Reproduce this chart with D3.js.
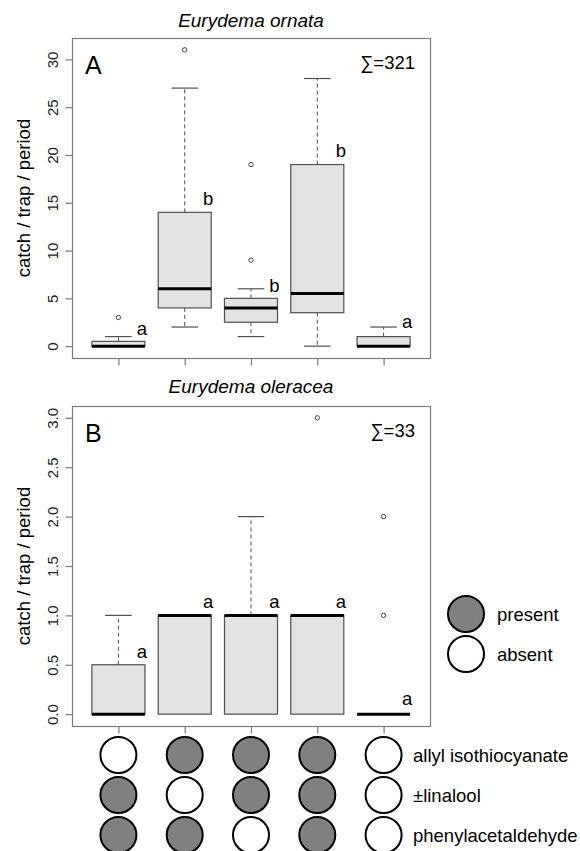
<!DOCTYPE html>
<html>
<head>
<meta charset="utf-8">
<script src="https://cdn.jsdelivr.net/npm/d3@7"></script>
<style>
  html, body { margin: 0; padding: 0; background: #fff; }
  svg { display: block; font-family: "Liberation Sans", Arial, Helvetica, sans-serif; }
</style>
</head>
<body>
<svg id="chart" width="580" height="851"></svg>
<script>
// ---------------- DATA ----------------
const treatments = ["T1", "T2", "T3", "T4", "T5"];

// Panel A: Eurydema ornata
const ornataLow      = [0, 2, 1, 0, 0];
const ornataQ1       = [0, 4, 2.5, 3.5, 0];
const ornataMedian   = [0, 6, 4, 5.5, 0];
const ornataQ3       = [0.5, 14, 5, 19, 1];
const ornataHigh     = [1, 27, 6, 28, 2];
const ornataOutliers = [[3], [31], [9, 19], [], []];
const ornataLetters  = ["a", "b", "b", "b", "a"];
const ornataLetterY  = [1.2, 14.8, 5.7, 19.8, 1.9];
const ornataTicks    = [0, 5, 10, 15, 20, 25, 30];

// Panel B: Eurydema oleracea
const oleraceaLow      = [0, 0, 0, 0, 0];
const oleraceaQ1       = [0, 0, 0, 0, 0];
const oleraceaMedian   = [0, 1, 1, 1, 0];
const oleraceaQ3       = [0.5, 1, 1, 1, 0];
const oleraceaHigh     = [1, 1, 2, 1, 0];
const oleraceaOutliers = [[], [], [], [3], [1, 2]];
const oleraceaLetters  = ["a", "a", "a", "a", "a"];
const oleraceaLetterY  = [0.57, 1.07, 1.07, 1.07, 0.09];
const oleraceaTicks    = [0, 0.5, 1, 1.5, 2, 2.5, 3];

// Treatment composition (1 = present, 0 = absent)
const compounds = ["allyl isothiocyanate", "\u00B1linalool", "phenylacetaldehyde"];
const allylPresent    = [0, 1, 1, 1, 0];
const linaloolPresent = [1, 0, 1, 1, 0];
const phenylPresent   = [1, 1, 0, 1, 0];

const legendLabels = ["present", "absent"];

// ---------------- DRAWING ----------------
const svg = d3.select("#chart");
const FONT = 18.5;
const frameColor = "#7a7a7a";
const boxStroke = "#505050";
const boxFill = "#e3e3e3";
const presentFill = "#808080";

const plotLeft = 72, plotRight = 430;
const x = d3.scaleLinear().domain([0.3, 5.7]).range([plotLeft, plotRight]);
const boxHalf = (x(1.4) - x(1));
const capHalf = boxHalf / 2;

function panel(cfg) {
  const g = svg.append("g");
  const y = d3.scaleLinear().domain(cfg.domain).range([cfg.bottom, cfg.top]);

  // frame
  g.append("rect")
    .attr("x", plotLeft + 0.5).attr("y", cfg.top + 0.5)
    .attr("width", plotRight - plotLeft).attr("height", cfg.bottom - cfg.top)
    .attr("fill", "none").attr("stroke", frameColor).attr("stroke-width", 1.2);

  // y axis
  const yAxis = d3.axisLeft(y).tickValues(cfg.ticks).tickSize(7).tickPadding(0)
    .tickFormat(cfg.fmt);
  const ya = g.append("g").attr("transform", `translate(${plotLeft + 0.5},0)`).call(yAxis);
  ya.select(".domain").remove();
  ya.selectAll(".tick line").attr("stroke", frameColor).attr("stroke-width", 1.2);
  ya.selectAll(".tick text")
    .attr("x", null).attr("dy", null)
    .attr("transform", "translate(-15,0) rotate(-90)")
    .attr("text-anchor", "middle")
    .attr("fill", "#222")
    .style("font-size", "15px");

  // x axis ticks (no labels)
  const xAxis = d3.axisBottom(x).tickValues([1, 2, 3, 4, 5]).tickSize(7).tickFormat("");
  const xa = g.append("g").attr("transform", `translate(0,${cfg.bottom + 0.5})`).call(xAxis);
  xa.select(".domain").remove();
  xa.selectAll(".tick line").attr("stroke", frameColor).attr("stroke-width", 1.2);

  // boxes
  treatments.forEach((t, i) => {
    const cx = x(i + 1);
    const bg = g.append("g");
    if (cfg.high[i] > cfg.q3[i]) {
      bg.append("line").attr("x1", cx).attr("x2", cx)
        .attr("y1", y(cfg.q3[i])).attr("y2", y(cfg.high[i]))
        .attr("stroke", boxStroke).attr("stroke-dasharray", "4,3");
      bg.append("line").attr("x1", cx - capHalf).attr("x2", cx + capHalf)
        .attr("y1", y(cfg.high[i])).attr("y2", y(cfg.high[i]))
        .attr("stroke", boxStroke).attr("stroke-width", 1.2);
    }
    if (cfg.low[i] < cfg.q1[i]) {
      bg.append("line").attr("x1", cx).attr("x2", cx)
        .attr("y1", y(cfg.q1[i])).attr("y2", y(cfg.low[i]))
        .attr("stroke", boxStroke).attr("stroke-dasharray", "4,3");
      bg.append("line").attr("x1", cx - capHalf).attr("x2", cx + capHalf)
        .attr("y1", y(cfg.low[i])).attr("y2", y(cfg.low[i]))
        .attr("stroke", boxStroke).attr("stroke-width", 1.2);
    }
    if (cfg.q3[i] > cfg.q1[i]) {
      bg.append("rect")
        .attr("x", cx - boxHalf).attr("y", y(cfg.q3[i]))
        .attr("width", 2 * boxHalf).attr("height", y(cfg.q1[i]) - y(cfg.q3[i]))
        .attr("fill", boxFill).attr("stroke", boxStroke).attr("stroke-width", 1.2);
    }
    bg.append("line").attr("x1", cx - boxHalf).attr("x2", cx + boxHalf)
      .attr("y1", y(cfg.median[i])).attr("y2", y(cfg.median[i]))
      .attr("stroke", "#000").attr("stroke-width", 3);
    cfg.outliers[i].forEach(v => {
      bg.append("circle").attr("cx", cx).attr("cy", y(v)).attr("r", 2.2)
        .attr("fill", "none").attr("stroke", "#444").attr("stroke-width", 1);
    });
    bg.append("text").attr("x", cx + 23.5).attr("y", y(cfg.letterY[i]))
      .attr("text-anchor", "middle").style("font-size", FONT + "px")
      .text(cfg.letters[i]);
  });

  g.append("text").attr("x", (plotLeft + plotRight) / 2).attr("y", cfg.titleY)
    .attr("text-anchor", "middle").style("font-size", "19px").style("font-style", "italic")
    .text(cfg.title);
  const midY = (cfg.top + cfg.bottom) / 2;
  g.append("text").attr("transform", `translate(30,${midY}) rotate(-90)`)
    .attr("text-anchor", "middle").style("font-size", FONT + "px")
    .text("catch / trap / period");
  g.append("text").attr("x", 85).attr("y", cfg.top + 36)
    .style("font-size", "25px").text(cfg.letter);
  g.append("text").attr("x", 415).attr("y", cfg.top + 31)
    .attr("text-anchor", "end").style("font-size", FONT + "px")
    .text(cfg.total);
}

panel({
  title: "Eurydema ornata", titleY: 27, letter: "A", total: "\u2211=321",
  top: 38, bottom: 358, domain: [-1.24, 32.24], ticks: ornataTicks, fmt: d3.format("d"),
  low: ornataLow, q1: ornataQ1, median: ornataMedian, q3: ornataQ3, high: ornataHigh,
  outliers: ornataOutliers, letters: ornataLetters, letterY: ornataLetterY
});

panel({
  title: "Eurydema oleracea", titleY: 393, letter: "B", total: "\u2211=33",
  top: 406, bottom: 726, domain: [-0.12, 3.12], ticks: oleraceaTicks, fmt: d3.format(".1f"),
  low: oleraceaLow, q1: oleraceaQ1, median: oleraceaMedian, q3: oleraceaQ3, high: oleraceaHigh,
  outliers: oleraceaOutliers, letters: oleraceaLetters, letterY: oleraceaLetterY
});

// composition circles
const rowY = d3.scalePoint().domain(compounds).range([755, 835]);
const presence = [allylPresent, linaloolPresent, phenylPresent];
const cg = svg.append("g");
compounds.forEach((c, r) => {
  treatments.forEach((t, i) => {
    cg.append("circle").attr("cx", x(i + 1)).attr("cy", rowY(c)).attr("r", 18)
      .attr("fill", presence[r][i] ? presentFill : "#fff")
      .attr("stroke", "#000").attr("stroke-width", 2);
  });
  cg.append("text").attr("x", 413).attr("y", rowY(c) + 7)
    .style("font-size", FONT + "px").text(c);
});

// legend
const legY = d3.scalePoint().domain(legendLabels).range([614, 654]);
legendLabels.forEach((l, k) => {
  svg.append("circle").attr("cx", 466).attr("cy", legY(l)).attr("r", 18)
    .attr("fill", k === 0 ? presentFill : "#fff")
    .attr("stroke", "#000").attr("stroke-width", 2);
  svg.append("text").attr("x", 497).attr("y", legY(l) + 7)
    .style("font-size", FONT + "px").text(l);
});
</script>
</body>
</html>
